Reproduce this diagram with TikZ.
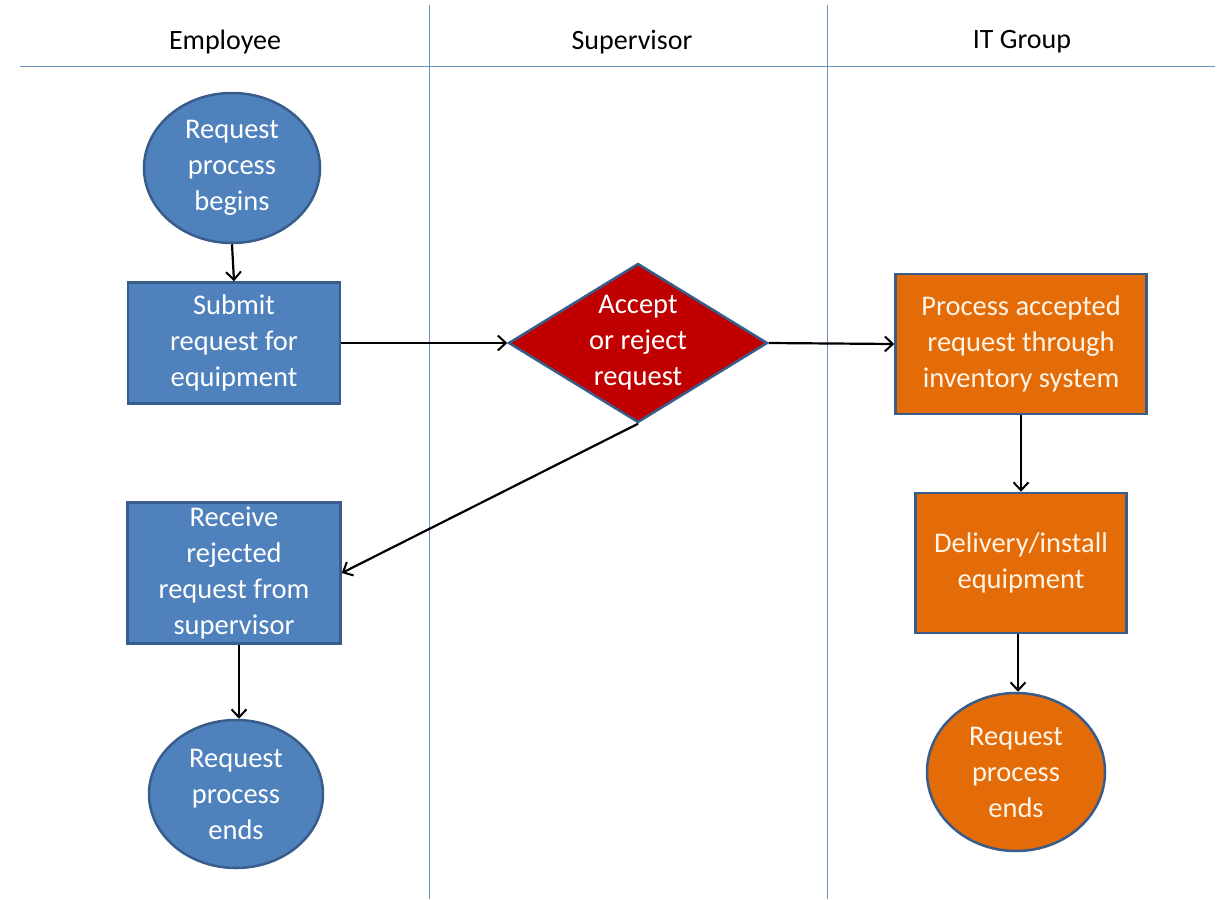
\documentclass[tikz,border=0pt]{standalone}
\usepackage{fontspec}
\setmainfont{Carlito}
\usetikzlibrary{shapes.geometric,arrows.meta}
\definecolor{bluefill}{HTML}{4F81BD}
\definecolor{blueedge}{HTML}{385D8A}
\definecolor{redfill}{HTML}{C00000}
\definecolor{orangefill}{HTML}{E36C09}
\definecolor{laneline}{HTML}{6E93BF}
\definecolor{cream}{HTML}{FFF4E6}
\tikzset{
  shapetext/.style={text=white, align=center, font=\fontsize{28.5}{36}\selectfont, inner sep=0pt},
  bluebox/.style={shapetext, rectangle, fill=bluefill, draw=blueedge, line width=2.5pt},
  blueoval/.style={shapetext, ellipse, fill=bluefill, draw=blueedge, line width=2.5pt},
  orangebox/.style={shapetext, text=cream, rectangle, fill=orangefill, draw=blueedge, line width=2.5pt},
  orangeoval/.style={shapetext, text=cream, ellipse, fill=orangefill, draw=blueedge, line width=2.5pt},
  decision/.style={diamond, fill=redfill, draw=blueedge, line width=2.5pt, inner sep=0pt},
  flow/.style={draw=black, line width=2.2pt, -{Straight Barb[length=8pt,width=15pt,line width=2pt]}},
  lane/.style={draw=laneline, line width=1pt},
  header/.style={font=\fontsize{28}{32}\selectfont, text=black}
}
\begin{document}
\begin{tikzpicture}[x=1pt,y=-1pt]
\useasboundingbox (0,0) rectangle (1225,899);
\fill[white] (0,0) rectangle (1225,899);
% lanes
\coordinate (hl) at (20,66);
\coordinate (hr) at (1215,66);
\coordinate (v1t) at (429,5);
\coordinate (v1b) at (429,899);
\coordinate (v2t) at (827,5);
\coordinate (v2b) at (827,899);
\draw[lane] (hl) -- (hr);
\draw[lane] (v1t) -- (v1b);
\draw[lane] (v2t) -- (v2b);
\node[header] (h1) at (225,42) {Employee};
\node[header] (h2) at (632,42) {Supervisor};
\node[header] (h3) at (1022,42) {IT Group};
% shapes
\node[blueoval, minimum width=176pt, minimum height=150pt] (start) at (232,168) {Request\\process\\begins};
\node[bluebox, minimum width=212pt, minimum height=121pt] (submit) at (234,343) {Submit\\request for\\equipment};
\node[decision, minimum width=259pt, minimum height=159pt,
  label={[shapetext]center:{Accept\\or reject\\request}}] (dec) at (638,343) {};
\node[orangebox, minimum width=251pt, minimum height=140pt] (proc) at (1021,344) {Process accepted\\request through\\inventory system};
\node[orangebox, minimum width=211pt, minimum height=140pt] (deliv) at (1021,563) {Delivery/install\\equipment};
\node[orangeoval, minimum width=178pt, minimum height=158pt] (end2) at (1016,772) {Request\\process\\ends};
\node[bluebox, minimum width=213pt, minimum height=141pt] (recv) at (234,573) {Receive\\rejected\\request from\\supervisor};
\node[blueoval, minimum width=174pt, minimum height=148pt] (end1) at (236,794) {Request\\process\\ends};
% connectors
\draw[flow] (start.south) -- (submit.north);
\draw[flow] (submit.east) -- (dec.west);
\draw[flow] (dec.east) -- (proc.west);
\draw[flow] (proc.south) -- (deliv.north);
\draw[flow] ([xshift=-3pt]deliv.south) -- ([xshift=2pt]end2.north);
\draw[flow] (dec.south) -- (recv.east);
\draw[flow] ([xshift=5pt]recv.south) -- ([xshift=3pt]end1.north);
\end{tikzpicture}
\end{document}
